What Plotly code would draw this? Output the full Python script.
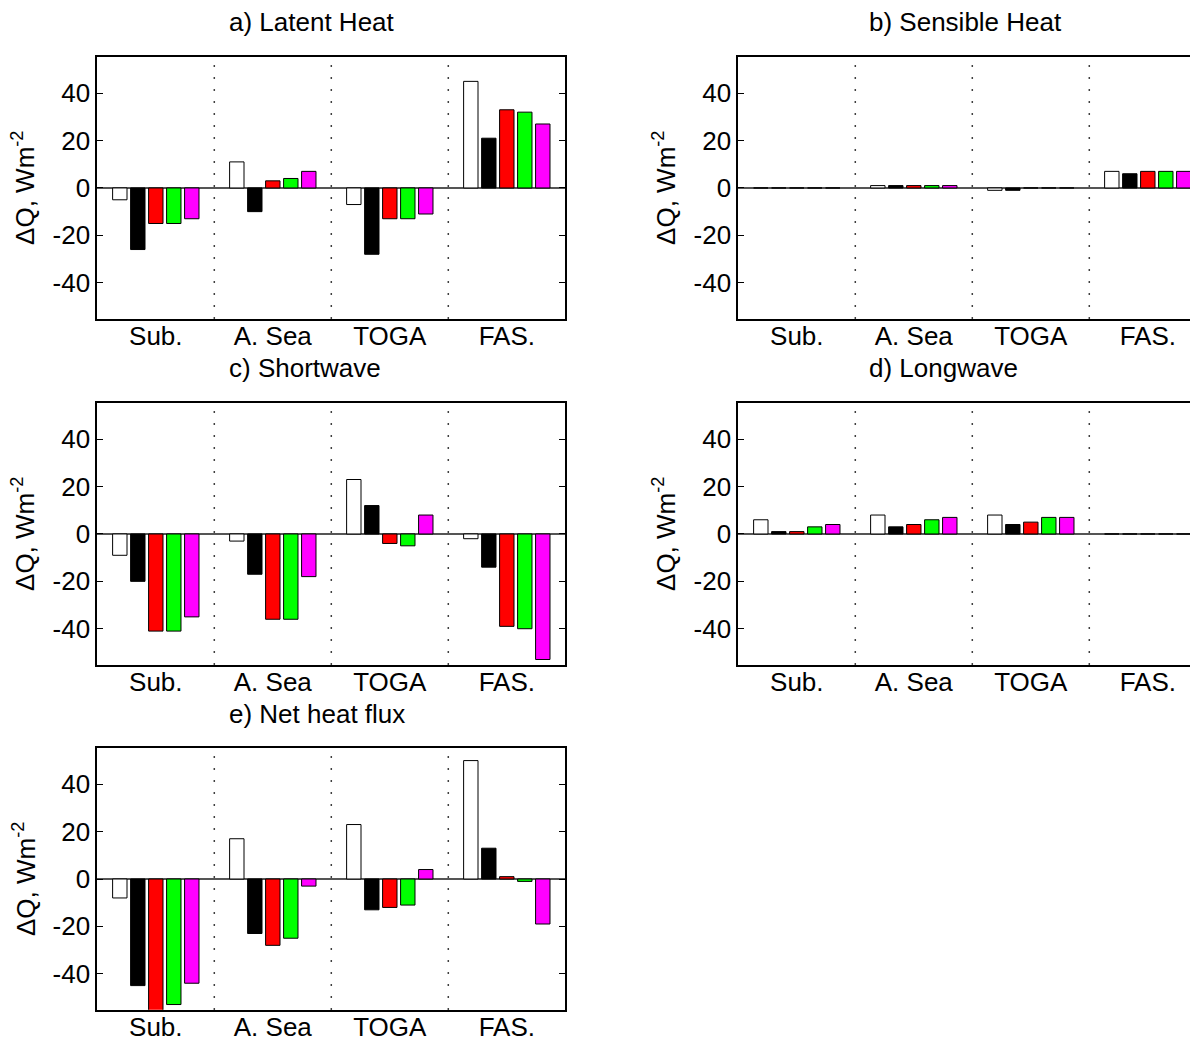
import plotly.graph_objects as go

# The page body has an 8px margin; the figure is offset by it.
OFF = 8
W, H = 1198 - OFF, 1042 - OFF

categories = ["Sub.", "A. Sea", "TOGA", "FAS."]
series_colors = ["#ffffff", "#000000", "#ff0000", "#00ff00", "#ff00ff"]

titles = ["a) Latent Heat", "b) Sensible Heat", "c) Shortwave", "d) Longwave", "e) Net heat flux"]

# values[panel][series][category]
latent = [
    [-5, 11, -7, 45],
    [-26, -10, -28, 21],
    [-15, 3, -13, 33],
    [-15, 4, -13, 32],
    [-13, 7, -11, 27],
]
sensible = [
    [0, 1, -1, 7],
    [0, 1, -1, 6],
    [0, 1, 0, 7],
    [0, 1, 0, 7],
    [0, 1, 0, 7],
]
shortwave = [
    [-9, -3, 23, -2],
    [-20, -17, 12, -14],
    [-41, -36, -4, -39],
    [-41, -36, -5, -40],
    [-35, -18, 8, -53],
]
longwave = [
    [6, 8, 8, 0],
    [1, 3, 4, 0],
    [1, 4, 5, 0],
    [3, 6, 7, 0],
    [4, 7, 7, 0],
]
netflux = [
    [-8, 17, 23, 50],
    [-45, -23, -13, 13],
    [-57, -28, -12, 1],
    [-53, -25, -11, -1],
    [-44, -3, 4, -19],
]
panels = [latent, sensible, shortwave, longwave, netflux]

ytick_vals = [-40, -20, 0, 20, 40]
ytick_text = ["-40", "-20", "0", "20", "40"]
ylabel = "ΔQ, Wm<sup>-2</sup>"

# layout geometry (window pixels)
left_x = (97.3, 565.0)
right_x = (738.3, 1198.0)
rows_y = [(57.3, 319.3), (404.0, 666.0), (749.7, 1011.7)]
px_per_unit = 117.0

FONT = "Liberation Sans, Arial, Helvetica, sans-serif"
FS = 26


def px_x(v):
    return (v - OFF) / W


def px_y(v):
    return 1 - (v - OFF) / H


fig = go.Figure()
layout = dict(
    width=W, height=H,
    margin=dict(l=0, r=0, t=0, b=0),
    paper_bgcolor="white", plot_bgcolor="white",
    showlegend=False,
    barmode="group", bargap=0.231, bargroupgap=0.2,
    font=dict(family=FONT, size=FS, color="black"),
)
annotations = []
shapes = []

xs = [1, 2, 3, 4]
for p, data in enumerate(panels):
    row, col = p // 2, p % 2
    k = p + 1
    xa = "x" if k == 1 else f"x{k}"
    ya = "y" if k == 1 else f"y{k}"
    for s, vals in enumerate(data):
        fig.add_trace(go.Bar(
            x=xs, y=vals, xaxis=xa, yaxis=ya,
            marker=dict(color=series_colors[s], line=dict(color="black", width=1)),
            hoverinfo="skip",
        ))
    xpx = left_x if col == 0 else right_x
    ypx = rows_y[row]
    xdom = [px_x(xpx[0]), min(1.0, px_x(xpx[1]))]
    ydom = [px_y(ypx[1]), px_y(ypx[0])]
    span = (xpx[1] - xpx[0]) / px_per_unit
    xkey = "xaxis" if k == 1 else f"xaxis{k}"
    ykey = "yaxis" if k == 1 else f"yaxis{k}"
    layout[xkey] = dict(
        domain=xdom, anchor=ya, range=[0.5, 0.5 + span],
        tickmode="array", tickvals=xs, ticktext=categories,
        ticks="", showgrid=False, zeroline=False,
        showline=True, linecolor="black", linewidth=2, mirror=True,
        tickfont=dict(size=FS, family=FONT, color="black"),
        ticklabelstandoff=-7,
        fixedrange=True,
    )
    layout[ykey] = dict(
        domain=ydom, anchor=xa, range=[-55.2, 55.2],
        tickmode="array", tickvals=ytick_vals, ticktext=ytick_text,
        ticks="inside", ticklen=6, tickwidth=1, tickcolor="black",
        showgrid=False,
        zeroline=True, zerolinecolor="#555555", zerolinewidth=1.5,
        showline=True, linecolor="black", linewidth=2,
        mirror=("ticks" if col == 0 else False),
        tickfont=dict(size=FS, family=FONT, color="black"),
        fixedrange=True,
    )
    # dotted separators
    for xv in [1.5, 2.5, 3.5]:
        shapes.append(dict(
            type="line", xref=xa, yref=f"{ya} domain",
            x0=xv, x1=xv, y0=0, y1=1,
            line=dict(color="black", width=1.5, dash="1.5px,10.5px"),
            layer="above",
        ))
    # title (left aligned)
    tx = 227 if col == 0 else 867
    ty = [22.5, 368.5, 715.0][row]
    annotations.append(dict(
        text=titles[p], xref="paper", yref="paper",
        x=px_x(tx), y=px_y(ty), xanchor="left", yanchor="middle",
        showarrow=False, font=dict(size=FS, family=FONT, color="black"),
    ))
    # y label
    lx = 24 if col == 0 else 665
    annotations.append(dict(
        text=ylabel, xref="paper", yref="paper",
        x=px_x(lx), y=px_y((ypx[0] + ypx[1]) / 2),
        xanchor="center", yanchor="middle", textangle=-90,
        showarrow=False, font=dict(size=FS, family=FONT, color="black"),
    ))

layout["annotations"] = annotations
layout["shapes"] = shapes
fig.update_layout(**layout)
fig.write_html("out.html", config={"displayModeBar": False})
